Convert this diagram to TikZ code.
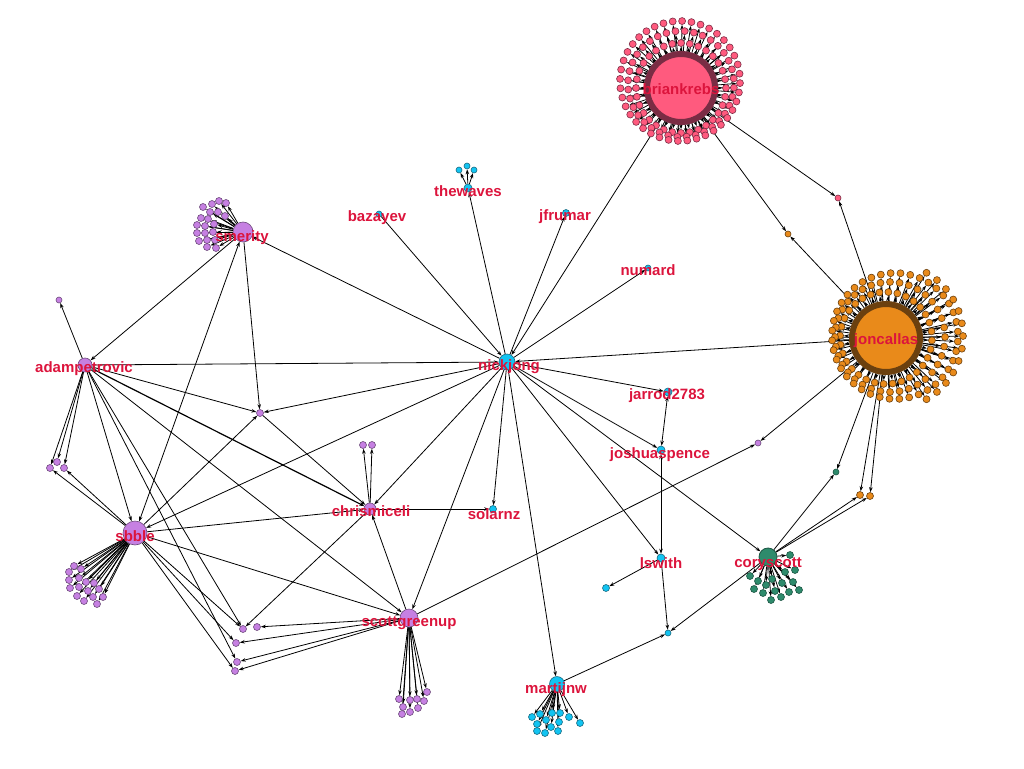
\documentclass[tikz,border=0pt]{standalone}
\usepackage{fontspec}
\setmainfont{Liberation Sans}
\usepackage{xcolor}
\usepackage{tikz}
\usetikzlibrary{arrows.meta, positioning, calc}
\pgfdeclarelayer{edges}
\pgfdeclarelayer{labels}
\pgfsetlayers{edges,main,labels}

\definecolor{krebs}{HTML}{FF5A7E}
\definecolor{krebsdark}{HTML}{7A2C44}
\definecolor{callas}{HTML}{E98A1A}
\definecolor{callasdark}{HTML}{6B400F}
\definecolor{purp}{HTML}{C680E2}
\definecolor{purpdark}{HTML}{6C4A7A}
\definecolor{sky}{HTML}{12C4F2}
\definecolor{skydark}{HTML}{1A6A80}
\definecolor{cory}{HTML}{2E8B6C}
\definecolor{corydark}{HTML}{1C5442}
\definecolor{lblred}{HTML}{DC143C}

\begin{document}
\begin{tikzpicture}[
    x=1pt, y=-1pt,
    vtx/.style={circle, inner sep=0pt, minimum size=#1, line width=0.6pt},
    nK/.style={vtx=#1, fill=krebs, draw=krebsdark},
    nC/.style={vtx=#1, fill=callas, draw=callasdark},
    nP/.style={vtx=#1, fill=purp, draw=purpdark},
    nS/.style={vtx=#1, fill=sky, draw=skydark},
    nT/.style={vtx=#1, fill=cory, draw=corydark},
    edge/.style={-{Stealth[length=5pt, width=3.5pt]}, line width=0.8pt},
    both/.style={{Stealth[length=5pt, width=3.5pt]}-{Stealth[length=5pt, width=3.5pt]}, line width=0.8pt},
    lbl/.style={font=\fontsize{15}{18}\selectfont\bfseries, text=lblred, inner sep=0pt}
]
    \useasboundingbox (0,0) rectangle (1024,768);

    % Hubs
    \node[nK=68pt, line width=6pt] (briankrebs) at (681,88) {};
    \node[nC=68pt, line width=6pt] (joncallas) at (886,338) {};
    \node[nS=16pt] (nickjong) at (507,362) {};
    \node[nP=20pt] (smerity) at (243,232) {};
    \node[nP=14pt] (adampetrovic) at (85,365) {};
    \node[nP=24pt] (sbble) at (135,533) {};
    \node[nP=12pt] (chrismiceli) at (370,509) {};
    \node[nP=18pt] (scottgreenup) at (409,618) {};
    \node[nS=15pt] (martijnw) at (557,684) {};
    \node[nT=18pt, line width=0.8pt] (coryscott) at (768,557) {};

    % Small accounts
    \node[nS=8pt] (thewaves) at (468,188) {};
    \node[nS=6pt] (tw1) at (459,170) {};
    \node[nS=6pt] (tw2) at (467,166) {};
    \node[nS=6pt] (tw3) at (474,170) {};
    \node[nS=6pt] (bazayev) at (379,214) {};
    \node[nS=7pt] (jfrumar) at (566,213) {};
    \node[nS=6pt] (numard) at (648,268) {};
    \node[nS=8pt] (jarrod) at (668,392) {};
    \node[nS=8pt] (joshuaspence) at (661,450) {};
    \node[nS=8pt] (lswith) at (661,558) {};
    \node[nS=7pt] (ls1) at (606,588) {};
    \node[nS=6pt] (c1) at (668,633) {};
    \node[nS=7pt] (solarnz) at (493,509) {};
    \node[nP=6pt] (ap0) at (59,300) {};
    \node[nP=7pt] (ap1) at (50,468) {};
    \node[nP=7pt] (ap2) at (57,462) {};
    \node[nP=7pt] (ap3) at (64,468) {};
    \node[nP=7pt] (m1) at (260,413) {};
    \node[nP=7pt] (cm1) at (363,445) {};
    \node[nP=7pt] (cm2) at (372,445) {};
    \node[nP=7pt] (b1) at (243,629) {};
    \node[nP=7pt] (b2) at (257,627) {};
    \node[nP=7pt] (b3) at (236,643) {};
    \node[nP=7pt] (b4) at (237,662) {};
    \node[nP=7pt] (b5) at (235,671) {};
    \node[nP=6pt] (q1) at (758,443) {};
    \node[nT=6pt] (t1) at (836,472) {};
    \node[nC=6pt] (o1) at (788,234) {};
    \node[nC=7pt] (o2) at (860,495) {};
    \node[nC=7pt] (o3) at (870,496) {};
    \node[nK=6pt] (p1) at (838,198) {};

    % Follower rings
    \foreach \cx/\cy/\r/\n/\o [count=\k] in {0/0/45/32/0, 0/-4/53/36/4, -1/-7/60/40/2} {
        \foreach \i in {1,...,\n}
            \node[nK=7pt] (bk-\k-\i) at ($(briankrebs)+(\cx,\cy)+({\o+360*\i/\n}:\r)$) {};
    }
    \foreach \cx/\cy/\r/\n/\o [count=\k] in {0/0/46/32/3, 4/-1/55/36/0, 9/-2/63/40/5} {
        \foreach \i in {1,...,\n}
            \node[nC=7pt] (jc-\k-\i) at ($(joncallas)+(\cx,\cy)+({\o+360*\i/\n}:\r)$) {};
    }
    \foreach \a [count=\i] in {-60,-50,...,60}
        \node[nC=7pt] (jc-4-\i) at ($(joncallas)+(4,-2)+(\a:73)$) {};

    % Follower clusters
    \foreach \p [count=\i] in {(219,201),(226,203),(212,204),(203,207),(210,212),(218,212),
        (201,218),(208,219),(197,225),(205,226),(214,224),(197,233),(205,233),(213,232),
        (199,241),(207,240),(215,240),(207,247),(216,248),(225,216)}
        \node[nP=7pt] (sm\i) at \p {};
    \foreach \p [count=\i] in {(74,566),(81,569),(69,572),(79,578),(69,580),(86,582),(94,583),(70,588),
        (79,587),(88,591),(99,589),(77,596),(93,597),(103,597),(84,601),(97,604)}
        \node[nP=7pt] (sb\i) at \p {};
    \foreach \p [count=\i] in {(399,699),(403,707),(410,700),(417,699),(424,701),(427,692),
        (402,714),(410,712),(418,708)}
        \node[nP=7pt] (sg\i) at \p {};
    \foreach \p [count=\i] in {(532,717),(540,714),(546,720),(552,713),(560,713),(569,717),(580,723),
        (537,724),(551,727),(559,722),(537,731),(545,733),(558,731)}
        \node[nS=7pt] (mw\i) at \p {};
    \foreach \p [count=\i] in {(790,555),(750,576),(785,572),(795,570),(758,581),(772,579),(793,582),
        (754,589),(766,585),(782,583),(763,593),(775,591),(789,592),(771,600),(781,597),(799,590)}
        \node[nT=7pt] (cs\i) at \p {};

    % Connectors
    \begin{pgfonlayer}{edges}
        \foreach \n [count=\k] in {32,36,40}
            \foreach \i in {1,...,\n} \draw[edge] (briankrebs) -- (bk-\k-\i);
        \foreach \n [count=\k] in {32,36,40,13}
            \foreach \i in {1,...,\n} \draw[edge] (joncallas) -- (jc-\k-\i);
        \foreach \i in {1,...,20} \draw[edge] (smerity) -- (sm\i);
        \foreach \i in {1,...,16} \draw[edge] (sbble) -- (sb\i);
        \foreach \i in {1,...,9} \draw[edge] (scottgreenup) -- (sg\i);
        \foreach \i in {1,...,13} \draw[edge] (martijnw) -- (mw\i);
        \foreach \i in {1,...,16} \draw[edge] (coryscott) -- (cs\i);
        \foreach \t in {tw1,tw2,tw3} \draw[edge] (thewaves) -- (\t);

        \draw[edge] (bazayev) -- (nickjong);
        \draw[edge] (briankrebs) -- (nickjong);
        \draw[edge] (adampetrovic) -- (nickjong);
        \draw[edge] (joncallas) -- (nickjong);
        \foreach \t in {thewaves,jfrumar,numard,jarrod,joshuaspence,lswith,coryscott,solarnz,
            martijnw,scottgreenup,chrismiceli,sbble,m1,smerity}
            \draw[edge] (nickjong) -- (\t);

        \draw[edge] (smerity) -- (adampetrovic);
        \draw[both] (sbble) -- (smerity);
        \draw[edge] (smerity) -- (m1);
        \foreach \t in {ap0,ap1,ap2,ap3,sbble,m1,scottgreenup,b1,b4}
            \draw[edge] (adampetrovic) -- (\t);
        \draw[both, line width=1.2pt] (adampetrovic) -- (chrismiceli);
        \foreach \t in {ap1,ap3,m1,chrismiceli,scottgreenup,b1,b3,b5}
            \draw[edge] (sbble) -- (\t);
        \draw[edge] (m1) -- (chrismiceli);
        \foreach \t in {cm1,cm2,solarnz,b1}
            \draw[edge] (chrismiceli) -- (\t);
        \foreach \t in {chrismiceli,b2,b3,b4,b5,q1}
            \draw[edge] (scottgreenup) -- (\t);

        \draw[edge] (joncallas) -- (q1);
        \draw[edge] (briankrebs) -- (p1);
        \draw[edge] (joncallas) -- (p1);
        \draw[edge] (briankrebs) -- (o1);
        \draw[edge] (joncallas) -- (o1);
        \foreach \t in {t1,o2,o3} {
            \draw[edge] (joncallas) -- (\t);
            \draw[edge] (coryscott) -- (\t);
        }
        \draw[edge] (coryscott) -- (c1);
        \draw[edge] (martijnw) -- (c1);
        \draw[edge] (lswith) -- (c1);
        \draw[edge] (lswith) -- (ls1);
        \draw[both] (jarrod) -- (joshuaspence);
        \draw[both] (joshuaspence) -- (lswith);
    \end{pgfonlayer}

    % Labels
    \begin{pgfonlayer}{labels}
        \node[lbl] (briankrebsL) at (681,89) {briankrebs};
        \node[lbl] (joncallasL) at (886,341) {joncallas};
        \node[lbl] (nickjongL) at (509,367) {nickjong};
        \node[lbl] (smerityL) at (242,238) {smerity};
        \node[lbl] (adampetrovicL) at (84,369) {adampetrovic};
        \node[lbl] (sbbleL) at (135,536) {sbble};
        \node[lbl] (chrismiceliL) at (371,511) {chrismiceli};
        \node[lbl] (scottgreenupL) at (409,623) {scottgreenup};
        \node[lbl] (martijnwL) at (556,690) {martijnw};
        \node[lbl] (coryscottL) at (768,564) {coryscott};
        \node[lbl] (thewavesL) at (468,191) {thewaves};
        \node[lbl] (bazayevL) at (377,218) {bazayev};
        \node[lbl] (jfrumarL) at (565,217) {jfrumar};
        \node[lbl] (numardL) at (648,270) {numard};
        \node[lbl] (jarrodL) at (667,396) {jarrod2783};
        \node[lbl] (joshuaspenceL) at (660,455) {joshuaspence};
        \node[lbl] (solarnzL) at (494,514) {solarnz};
        \node[lbl] (lswithL) at (661,563) {lswith};
    \end{pgfonlayer}
\end{tikzpicture}
\end{document}
